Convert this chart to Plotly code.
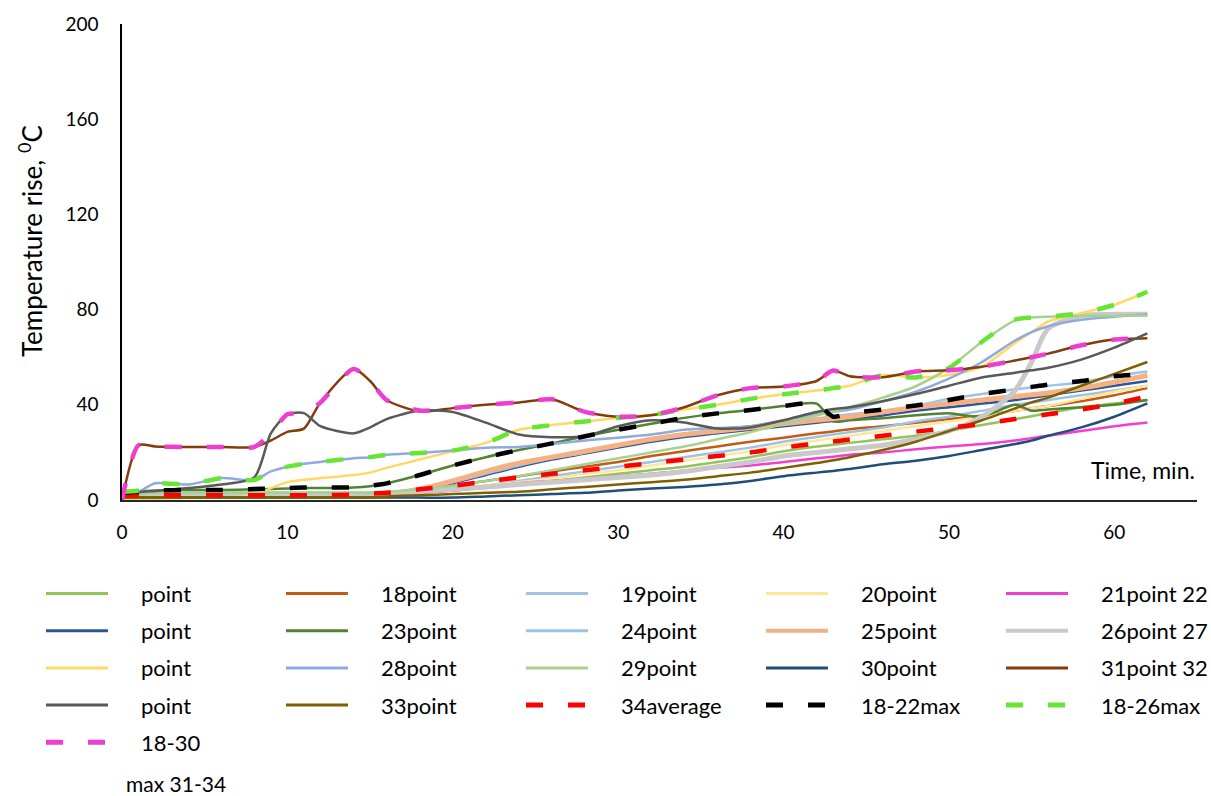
import plotly.graph_objects as go

# Time axis (minutes) shared by every series
time_min = [0, 1, 2, 4, 6, 8, 9, 10, 11, 12, 14, 15, 16, 18, 20, 22, 24, 26, 28, 30,
            32, 34, 36, 38, 40, 42, 43, 44, 46, 48, 50, 52, 54, 55, 56, 58, 60, 62]

# Temperature rise per measuring point, deg C
p17 = [2.5, 3, 3, 3, 3, 3, 3, 3, 3, 3, 3, 3, 3, 3.5, 4, 5, 6.5, 8, 9.5, 11,
       12.5, 14, 16, 18, 20.5, 22.5, 23.2, 24, 25.5, 27, 29, 31.5, 34, 35.2, 36.5, 39, 40.5, 42]
p18 = [1.5, 2, 2, 2, 2, 2, 2, 2, 2, 2, 2, 2, 2.5, 4, 6, 8, 10, 12, 14, 16,
       18.5, 20.5, 22.5, 24.5, 26.2, 28, 28.8, 29.7, 31, 32.5, 34, 35.5, 37.5, 38.5, 39.5, 41.5, 44, 47]
p19 = [2, 2.5, 2.5, 2.5, 2.5, 2.5, 2.5, 2.5, 2.5, 2.5, 2.5, 2.5, 3, 3.5, 4.5, 6, 8, 10, 12, 14,
       16, 18, 20, 22, 24.5, 26.5, 27.5, 28.5, 30.5, 33, 35, 37.5, 40, 41, 42, 44, 46, 48]
p20 = [0.5, 1, 1, 1, 1, 1, 1, 1, 1, 1, 1, 1, 2, 3, 4.5, 6, 7.5, 9, 11, 12.5,
       14.5, 16.5, 18.5, 20.5, 23, 25, 26, 27, 29, 31, 33, 35, 37.5, 38.5, 39.5, 42.5, 45.5, 48]
p21 = [1, 1.5, 1.5, 1.5, 1.5, 1.5, 1.5, 1.5, 1.5, 1.5, 1.5, 1.5, 2, 3, 4, 5.5, 7, 8, 9, 10,
       11, 12.3, 13.5, 14.5, 16, 17.5, 18.2, 19, 20, 21.3, 22.5, 23.5, 25, 26, 27, 29, 31, 32.6]
p22 = [1.5, 2, 2, 2, 2, 2, 2, 2, 2, 2, 2, 2, 2.5, 4, 7, 10.5, 14, 17, 19.5, 22,
       24.5, 26.5, 28, 29.5, 31, 32.5, 33.2, 34, 35.5, 37.5, 39, 40.5, 42, 43, 44, 46, 48, 50]
p23 = [3, 3.5, 4, 4.2, 4.2, 4.5, 4.6, 4.8, 5, 5, 5.2, 5.8, 7, 10.5, 14.5, 18, 21, 23.8, 26.8, 29.5,
       32, 34.5, 36.4, 37.8, 39.5, 40.5, 33, 33.5, 34.3, 35.6, 36.4, 35, 40, 37.5, 38, 39, 40, 42]
p24 = [2.5, 3, 3, 3, 3, 3, 3, 3, 3, 3, 3, 3, 3, 4.5, 7.5, 11, 14.5, 17.5, 20, 23,
       25.5, 27.8, 29.5, 31, 32.7, 34.3, 35.1, 36, 37.5, 39.5, 42.5, 44.5, 46.5, 47.3, 48, 49.5, 52, 54]
p25 = [2, 2, 2, 2, 2, 2, 2, 2, 2, 2, 2, 2, 2.5, 4.5, 8, 12, 15.5, 18, 20.5, 23,
       25.5, 27.5, 29, 30.5, 32, 33.5, 34.2, 35, 37, 39, 40.5, 42, 43.5, 44.2, 45, 47, 49.5, 52.3]
p26 = [1.5, 1.5, 1.5, 1.5, 1.5, 1.5, 1.5, 1.5, 1.5, 1.5, 1.5, 1.5, 2, 3.5, 4.5, 5.5, 6.5, 7.5, 8.5, 9.5,
       10.5, 12, 14, 16, 18.5, 20, 20.7, 21.5, 23, 25.5, 29, 35, 46, 58, 72, 77.5, 78, 78]
p27 = [0.5, 0.5, 0.5, 0.8, 1, 2, 5, 7.5, 8.5, 9.2, 10.5, 11.5, 13.5, 17, 20.5, 24, 29.5, 31.5, 33, 34.5,
       35.8, 38, 40, 42.5, 44.4, 46, 47, 48, 52.5, 51.5, 52.5, 56, 66, 70.5, 75, 78.5, 82, 87.5]
p28 = [3, 3.5, 7, 6.5, 9.2, 8.4, 12, 14, 15.2, 16, 17.5, 18, 19, 19.8, 20.8, 22, 22.3, 23.5, 25, 26.2,
       27.5, 29.5, 30.2, 31, 33.5, 36, 37, 38, 41.5, 45.5, 51, 58, 67, 70.5, 73, 75.7, 77, 78]
p29 = [2.5, 2.5, 3, 3, 3, 3, 3, 3, 3, 3, 3, 3, 3.5, 4.5, 6, 8, 10, 12.5, 15, 17.5,
       20, 22.5, 25.5, 28.5, 32, 35.5, 37.2, 39, 43, 47.8, 55.5, 66.5, 75.5, 76.7, 77, 77.3, 77.4, 77.5]
p30 = [1, 1, 1, 1, 1, 1, 1, 1, 1, 1, 1, 1, 1, 1, 1, 1.5, 2, 2.5, 3, 4,
       4.8, 5.5, 6.5, 8, 10, 11.5, 12.2, 13, 15, 16.5, 18.5, 21, 23.5, 25, 27, 30.5, 35, 40.6]
p31 = [0, 23, 22.5, 22.3, 22.3, 22.3, 25, 28.6, 30, 41, 55, 50, 42, 37.2, 38.6, 40, 41, 42.3, 37, 35,
       35.6, 39, 44, 47, 47.7, 50, 54.4, 52, 51.6, 54, 54.5, 56, 58.6, 60, 61.5, 65, 67.4, 68]
p32 = [2, 3.2, 3.8, 5, 6.5, 9.5, 28, 36, 36.5, 31, 28, 30.5, 34, 37.6, 37, 32.5, 27.5, 26.4, 26.8, 31,
       33.5, 32.6, 30, 30.5, 33.5, 37, 38.2, 39, 41.5, 44.5, 48, 51.5, 53.5, 54.5, 55.6, 59, 64, 70]
p33 = [1, 1, 1, 1, 1, 1, 1, 1, 1, 1, 1, 1, 1.5, 2, 2.5, 3, 3.5, 4.5, 5.5, 6.5,
       7.5, 8.5, 10, 11.5, 13.5, 15.5, 16.7, 18, 21, 24.5, 29, 33.5, 38.5, 41, 43, 48, 53, 58]

# Derived curves: average and envelopes of point groups
avg_all = [2, 2, 2, 2, 2, 2, 2, 2, 2, 2, 2.3, 2.6, 3, 4.5, 6, 7.7, 9.5, 11, 12.5, 14,
           15.5, 17, 18.5, 20, 22, 23.8, 24.6, 25.4, 27, 28.7, 30.3, 32, 34, 35, 36, 38, 40.5, 43.5]
max_18_22 = [3, 3.5, 4, 4.2, 4.2, 4.6, 4.8, 5, 5.2, 5.3, 5.3, 6, 7, 10.5, 14.5, 18, 21, 23.8, 26.8, 29.5,
             32, 34.5, 36.4, 37.8, 39.5, 40.5, 35, 36.5, 38, 39.7, 42, 44.5, 46.5, 47.5, 48.5, 50, 52, 53]
max_18_26 = [3.5, 4, 7, 6.5, 9.2, 8.4, 12, 14, 15.2, 16, 17.5, 18, 19, 19.8, 20.8, 24, 29.5, 31.5, 33, 34.5,
             35.8, 38, 40, 42.5, 44.4, 46, 47, 48, 52.5, 51.5, 55.5, 66.5, 75.8, 76.7, 77, 78.5, 82, 87.5]
max_18_30 = [0, 23, 22.5, 22.3, 22.3, 22.3, 28, 36, 36.5, 41, 55, 50, 42, 37.6, 38.6, 40, 41, 42.3, 37, 35,
             35.6, 39, 44, 47, 47.7, 50, 54.4, 52, 51.6, 54, 54.5, 56, 58.6, 60, 61.5, 65, 67.4, 68]

legend_labels = ["point", "18point", "19point", "20point", "21point 22",
                 "point", "23point", "24point", "25point", "26point 27",
                 "point", "28point", "29point", "30point", "31point 32",
                 "point", "33point", "34average", "18-22max", "18-26max",
                 "18-30"]
legend_tail = "max 31-34"

x_ticks = [0, 10, 20, 30, 40, 50, 60]
y_ticks = [0, 40, 80, 120, 160, 200]

DASH = "17px,25px"
series = [
    (p17, "#92C559", 2.5, "solid"),
    (p18, "#C55A11", 2.5, "solid"),
    (p19, "#9DC3E6", 2.5, "solid"),
    (p20, "#FFE699", 2.5, "solid"),
    (p21, "#F23FCF", 2.5, "solid"),
    (p22, "#2F5597", 2.5, "solid"),
    (p23, "#548235", 2.5, "solid"),
    (p24, "#9DC3E6", 2.5, "solid"),
    (p25, "#F4B183", 5, "solid"),
    (p26, "#C9C9C9", 5, "solid"),
    (p27, "#FFD966", 2.5, "solid"),
    (p28, "#8FAADC", 2.5, "solid"),
    (p29, "#A9D18E", 2.5, "solid"),
    (p30, "#1F4E79", 2.5, "solid"),
    (p31, "#843C0C", 2.5, "solid"),
    (p32, "#595959", 2.5, "solid"),
    (p33, "#7F6000", 2.5, "solid"),
    (avg_all, "#FF0000", 4.5, DASH),
    (max_18_22, "#000000", 4.5, DASH),
    (max_18_26, "#66E633", 4.5, DASH),
    (max_18_30, "#EE3ED0", 4.5, DASH),
]

FONT = "Lato, 'Open Sans', sans-serif"
W, H = 1211, 796
L, R, T, B = 122, 14, 22, 296
plot_w = W - L - R
plot_h = H - T - B


def px_x(px):
    return (px - L) / plot_w


def px_y(py):
    return (H - B - py) / plot_h


fig = go.Figure()
for vals, color, width, dash in series:
    fig.add_trace(go.Scatter(
        x=time_min, y=vals, mode="lines",
        line=dict(color=color, width=width, dash=dash, shape="spline", smoothing=0.7),
        showlegend=False, hoverinfo="skip",
    ))

# Legend block below the plot: 5 columns, sample line then label
shapes = []
annotations = []
col_pitch, row_pitch = 240, 37.3
row0 = 594
for i, (label, (vals, color, width, dash)) in enumerate(zip(legend_labels, series)):
    r, c = divmod(i, 5)
    y = row0 + r * row_pitch
    x0 = 46 + c * col_pitch
    x1 = x0 + 62 if dash == "solid" else x0 + 59
    lw = 4 if width > 3 and dash == "solid" else (3 if dash == "solid" else 5)
    shapes.append(dict(type="line", xref="paper", yref="paper",
                       x0=px_x(x0), x1=px_x(x1), y0=px_y(y), y1=px_y(y),
                       line=dict(color=color, width=lw, dash=dash)))
    annotations.append(dict(text=label, xref="paper", yref="paper",
                            x=px_x(139 + c * col_pitch), y=px_y(y),
                            xanchor="left", yanchor="middle", showarrow=False,
                            font=dict(family=FONT, size=22, color="#000000")))
annotations.append(dict(text=legend_tail, xref="paper", yref="paper",
                        x=px_x(124), y=px_y(785), xanchor="left", yanchor="middle",
                        showarrow=False, font=dict(family=FONT, size=21, color="#000000")))

# Axis titles
annotations.append(dict(text="Temperature rise, <sup>0</sup>C", xref="paper", yref="paper",
                        x=px_x(30), y=px_y(240), textangle=-90, showarrow=False,
                        xanchor="center", yanchor="middle",
                        font=dict(family=FONT, size=26, color="#000000")))
annotations.append(dict(text="Time, min.", xref="paper", yref="paper",
                        x=px_x(1089), y=px_y(470), xanchor="left", yanchor="middle",
                        showarrow=False, font=dict(family=FONT, size=23, color="#000000")))

fig.update_layout(
    width=W, height=H,
    margin=dict(l=L, r=R, t=T, b=B, pad=0),
    paper_bgcolor="white", plot_bgcolor="white",
    font=dict(family=FONT, size=19, color="#000000"),
    shapes=shapes, annotations=annotations,
    xaxis=dict(range=[0, 65], tickvals=x_ticks, showgrid=False, zeroline=False,
               showline=True, linecolor="#262626", linewidth=1.5, ticks="",
               ticklabelstandoff=14, tickfont=dict(size=19)),
    yaxis=dict(range=[0, 200], tickvals=y_ticks, showgrid=False, zeroline=False,
               showline=True, linecolor="#000000", linewidth=1.5, ticks="",
               ticklabelstandoff=18, tickfont=dict(size=19)),
)

fig.write_html("out.html")
